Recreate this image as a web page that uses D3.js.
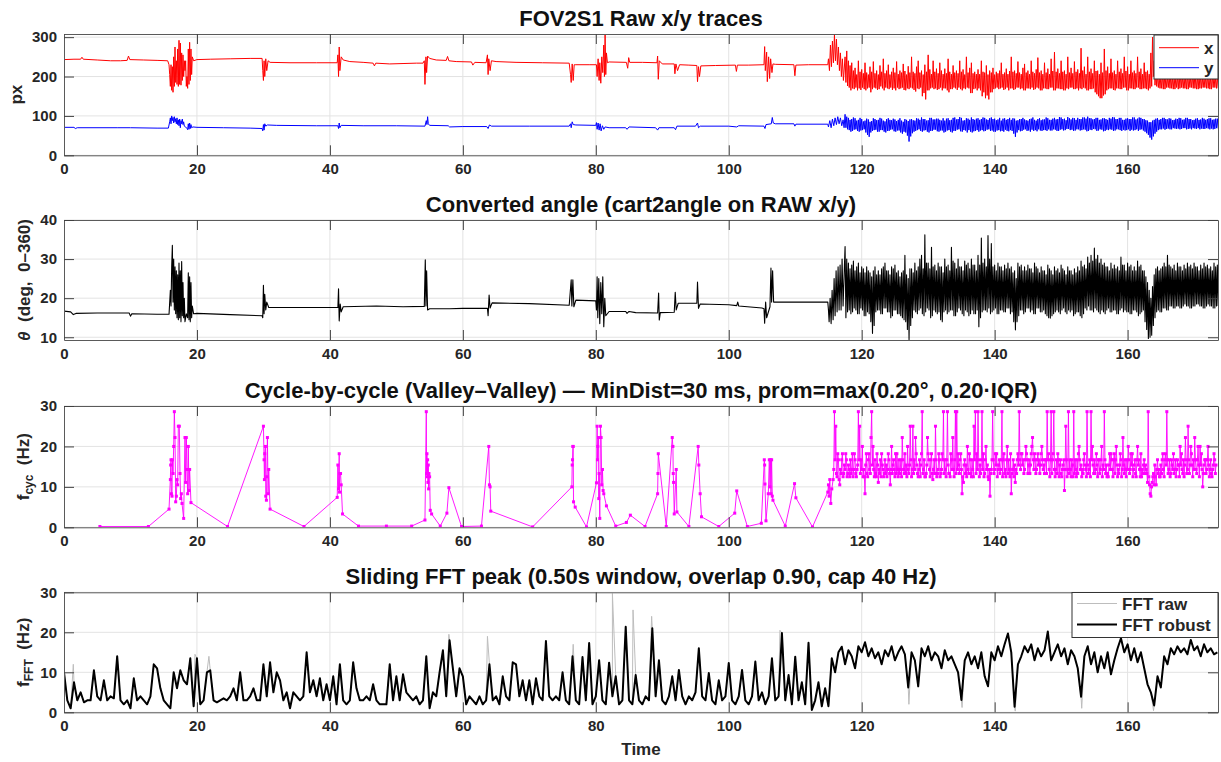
<!DOCTYPE html>
<html lang="en">
<head>
<meta charset="UTF-8">
<title>FOV2S1 traces</title>
<script src="https://d3js.org/d3.v7.min.js"></script>
<style>
    body { margin: 0; background: #fff; }
    svg { font-family: "Liberation Sans", Arial, sans-serif; }
    .tick text { font-size: 15px; font-weight: bold; fill: #262626; }
    .title { font-size: 22px; font-weight: bold; fill: #111; }
    .ylab, .xlab { font-size: 17px; font-weight: bold; fill: #262626; white-space: pre; }
    .leg { font-size: 17px; font-weight: bold; fill: #262626; }
</style>
</head>
<body>
<svg id="chart" width="1221" height="762"></svg>
<script>
// ---------------- data ----------------
var xTicks = [0, 20, 40, 60, 80, 100, 120, 140, 160];

// panel 1 – x trace, quiet part [time, px]
var xQuiet = [[0,243],[1.5,244],[2.5,244],[2.7,249],[2.9,244],[5,242],[7,240],[8.5,240],[9.5,241],[9.7,252],[9.9,243],[12,242],[14,241],[15.6,240],
  [15.8,230],[15.9,205],[16.0,175],[16.1,230],[16.2,165],[16.3,225],[16.4,160],[16.5,250],[16.6,175],[16.7,275],[16.8,185],[16.9,240],[17.0,180],[17.1,270],[17.2,175],[17.3,292],[17.4,180],[17.5,285],[17.6,178],[17.7,260],[17.8,190],[17.9,255],[18.0,200],[18.1,240],[18.2,215],[18.3,240],[18.4,175],[18.5,200],[18.6,170],[18.7,270],[18.8,180],[18.9,287],[19.0,190],[19.1,270],[19.2,205],[19.3,250],[19.5,240],
  [20,243],[22,244],[25,245],[28,246],[29.8,246],[29.9,215],[30.0,190],[30.1,240],[30.2,200],[30.35,245],[30.5,215],[30.7,240],[31,236],[34,235],[38,235],[41.1,235],[41.2,255],[41.3,200],[41.4,275],[41.5,215],[41.7,250],[42,242],[43,238],[45,236],[46.5,234],[46.7,227],[46.9,234],[49,232],[51,233],[53,234],[54,234],
  [54.2,240],[54.3,180],[54.45,250],[54.55,210],[54.7,252],[55,246],[56,242],[57.5,241],[57.7,251],[57.9,240],[59,238],[61.3,237],[61.5,229],[61.8,236],[63.5,235],[63.7,255],[63.8,205],[63.9,245],[64.1,215],[64.3,240],[65,238],[68,236],[72,235],[76,234],[76.2,205],[76.3,185],[76.45,232],[76.6,190],[76.75,230],[77,230],[79,230],
  [80.1,230],[80.2,200],[80.35,245],[80.5,190],[80.6,235],[80.75,183],[80.9,250],[81.05,210],[81.2,280],[81.3,200],[81.4,306],[81.5,205],[81.6,260],[81.75,235],[82,237],[84.6,236],[84.8,221],[84.95,248],[85.1,236],[87,236],[89.2,235],[89.3,252],[89.4,193],[89.55,240],[90,232],[91.8,232],[91.9,207],[92.05,232],[92.3,215],[92.6,230],[94,229],[95.2,228],[95.3,187],[95.45,225],[95.6,200],[95.8,227],[98,228],
  [101,229],[101.15,213],[101.3,229],[103,229],[105.3,230],[105.4,276],[105.5,215],[105.7,262],[105.8,187],[106.0,250],[106.15,195],[106.3,245],[106.5,210],[106.65,232],[107,231],[109.8,230],[109.95,202],[110.1,229],[112,230],[114.9,230],
  [115.0,245],[115.15,215],[115.3,280],[115.45,225],[115.6,290],[115.75,235],[115.9,306],[116.05,240],[116.2,295],[116.35,230],[116.5,275],[116.65,215],[116.8,260],[116.95,200],[117.1,245],[117.25,190]];

// dense part from 117.5 s: upper / lower envelope every 0.25 s
var bandT0 = 117.5, bandStep = 0.25;
var xHi = [250,265,240,228,235,215,222,205,240,212,218,208,235,210,205,225,212,238,208,215,
  205,228,212,245,208,215,230,205,212,222,210,238,206,215,210,232,214,205,226,210,
  250,212,208,225,240,210,215,205,230,212,255,218,206,240,212,220,208,235,215,206,
  220,208,245,212,206,228,210,215,208,240,212,218,205,250,210,222,235,208,212,206,
  218,206,240,212,210,228,205,215,210,222,205,212,208,215,235,206,210,220,206,214,
  250,212,215,208,238,210,206,222,232,210,215,206,240,212,208,218,248,210,215,206,
  235,210,220,206,245,214,262,212,220,208,240,212,215,206,250,210,222,208,238,212,
  218,208,272,215,225,206,250,212,220,208,240,214,215,206,235,210,270,215,225,208,
  245,210,215,206,240,212,220,208,250,214,225,206,240,210,215,208,250,212,220,206,
  235,212,215,206,260,300,240,215,205,198,200,205,210,198,198,202,205,196,200,198,
  200,204,210,198,198,202,205,197,200,203,212,198,200,204,205,196,198,202,206,199,
  200,203,204,198,200];
var xLo = [185,176,172,165,170,168,172,165,170,166,172,168,165,170,172,160,168,172,170,166,
  168,175,170,165,172,170,168,172,166,170,165,172,168,170,172,166,165,170,168,172,
  170,166,162,170,168,172,150,158,142,165,165,170,172,168,170,166,168,172,165,170,
  170,165,160,168,168,172,170,166,172,168,165,170,168,172,170,158,158,168,170,165,
  170,165,150,160,145,152,142,160,160,168,170,172,168,170,172,166,168,172,165,170,
  170,166,168,172,172,168,170,165,165,170,170,168,172,166,168,172,170,165,165,170,
  170,168,168,172,172,165,165,170,170,168,168,165,165,170,168,172,172,168,168,170,
  165,170,168,172,170,165,165,168,168,170,160,155,150,145,145,152,155,165,168,170,
  170,166,165,170,170,168,168,172,172,165,165,170,170,168,168,172,172,168,168,170,
  170,168,165,170,175,200,178,175,172,170,170,168,168,172,172,170,170,168,168,172,
  168,170,172,170,170,168,168,172,172,170,170,168,168,170,170,172,172,170,170,168,
  168,172,172,170,170];

// panel 1 – y trace
var yQuiet = [[0,71],[1.5,71],[1.7,68],[2,70],[8,70],[10,70],[14,69],[15.7,69],
  [15.9,85],[16.0,95],[16.1,80],[16.2,100],[16.3,88],[16.4,96],[16.5,82],[16.6,98],[16.7,85],[16.8,93],[16.9,80],[17.0,95],[17.1,78],[17.2,90],[17.3,75],[17.4,92],[17.5,70],[17.6,88],[17.7,80],[17.8,92],[17.9,78],[18.0,85],[18.1,74],[18.3,72],[18.5,68],[18.6,65],[18.7,80],[18.8,66],[18.9,82],[19.0,68],[19.1,78],[19.2,70],[19.4,72],
  [20,71],[24,70],[28,69],[29.8,68],[29.9,62],[30.0,78],[30.1,64],[30.2,80],[30.35,74],[30.6,77],[32,76],[38,75],[41.2,75],[41.3,68],[41.4,82],[41.5,70],[41.7,76],[45,75],[50,75],[54.3,74],[54.5,88],[54.6,78],[54.7,98],[54.8,80],[55,76],[57.8,75],[58,72],[60,73],[63.6,73],[63.8,68],[64,77],[64.3,74],[70,74],[76,74],[76.2,80],[76.3,70],[76.45,85],[76.6,78],[77,77],
  [80,76],[80.1,83],[80.2,66],[80.35,82],[80.5,64],[80.65,80],[80.8,62],[81,75],[81.2,66],[81.4,72],[82,70],[84.5,70],[84.7,66],[85,72],[89,70],[89.3,64],[89.5,70],[91.8,70],[92,65],[92.2,74],[95,74],[95.3,82],[95.45,70],[95.7,74],[100,74],[101.2,72],[101.5,75],[105.3,74],[105.45,68],[105.6,78],[106.4,80],[106.55,96],[106.7,82],[107,80],[109.8,80],[109.95,74],[110.1,79],[114.9,79],
  [115.0,72],[115.2,88],[115.4,70],[115.6,92],[115.8,75],[116.0,95],[116.2,78],[116.4,98],[116.6,80],[116.8,95],[117.0,75],[117.2,90],[117.35,70]];
var yHi = [104,98,95,90,92,96,94,88,90,95,92,86,88,93,91,85,87,94,92,89,
  90,95,93,88,86,92,94,90,89,93,91,87,90,94,88,85,92,90,87,91,
  92,89,88,94,93,90,96,92,92,88,89,95,95,91,91,93,93,90,88,94,
  88,93,94,89,90,95,96,91,92,97,95,88,89,94,93,90,96,92,90,93,
  94,90,92,96,95,91,90,94,96,92,93,89,91,95,88,93,94,90,92,95,
  90,94,93,88,89,92,92,95,91,89,88,92,93,96,90,88,92,94,89,91,
  91,96,94,90,90,93,95,91,92,97,96,92,93,89,97,94,91,95,94,90,
  95,92,92,96,96,93,98,94,94,91,92,95,95,90,91,94,94,92,90,95,
  93,97,96,92,92,95,95,90,90,93,94,92,92,96,96,91,93,96,95,92,
  92,89,88,84,84,88,90,93,94,90,92,95,95,92,91,94,93,89,90,93,
  92,95,94,90,91,95,95,92,92,89,90,93,94,90,91,95,93,90,92,94,
  94,90,91,93,93];
var yLo = [70,66,64,60,62,65,66,62,60,63,64,66,58,52,47,58,62,64,65,60,
  60,64,64,60,58,62,62,65,66,61,60,63,63,58,55,60,58,50,35,48,
  56,60,62,64,66,62,60,63,64,60,58,62,62,65,65,61,60,63,63,58,
  60,63,64,60,58,62,62,65,66,61,60,64,63,58,64,60,58,61,62,64,
  60,63,64,61,62,65,66,62,63,60,60,63,64,61,62,60,65,62,61,64,
  62,55,47,58,64,61,62,65,66,62,63,60,65,62,64,61,66,63,62,64,
  64,62,66,63,63,66,65,62,62,65,66,63,64,67,67,64,65,62,63,66,
  66,63,64,66,65,61,62,65,64,67,66,62,63,66,65,61,62,65,64,66,
  65,62,63,66,66,64,62,65,63,64,66,62,65,63,64,66,62,65,66,63,
  60,56,52,45,40,48,55,60,64,66,66,68,65,67,68,66,66,69,68,67,
  68,66,67,69,69,66,67,68,66,69,68,67,69,66,68,67,67,69,68,66,
  68,66,67,69,68];

// panel 2 – converted angle (deg)
var thQuiet = [[0,16.7],[1,16.5],[1.4,15.8],[1.8,16.1],[5,16.2],[9.8,16.2],[10,15.4],[10.2,16],[14,15.9],[15.8,15.9],
  [16.0,22],[16.1,18],[16.2,28],[16.3,33.5],[16.4,19],[16.5,30],[16.6,17],[16.7,28],[16.8,16],[16.9,27],[17.0,15],[17.1,26],[17.2,14.5],[17.3,29],[17.4,15],[17.5,27],[17.6,14],[17.7,29.4],[17.8,15.5],[17.9,24],[18.0,15],[18.1,20],[18.2,14],[18.4,16],[18.6,15],[18.7,26.5],[18.8,14.5],[18.9,25.5],[19.0,14],[19.1,24],[19.2,15],[19.3,18],[19.5,16],
  [20,16.1],[25,15.8],[29.8,15.5],[29.9,15],[30.0,23.3],[30.1,16],[30.2,21],[30.35,17],[30.5,19],[30.8,17.6],[35,17.6],[41.2,17.6],[41.3,22.4],[41.4,14.2],[41.55,18.5],[41.7,16.5],[42,17.8],[47,18],[51,17.8],[54.2,17.9],[54.35,29.8],[54.45,18],[54.55,27],[54.7,17],[55,17.3],[58,17.3],[60,17.4],[63.7,17.4],[63.8,15.5],[63.95,20.8],[64.1,17.5],[64.4,18.8],[70,18.6],[76,18.2],[76.3,24.7],[76.4,18],[76.55,24.7],[76.7,17.8],[77,19.5],
  [80,19.3],[80.1,17],[80.2,25.5],[80.3,15],[80.45,25],[80.6,13.5],[80.75,24],[80.9,16],[81.05,25.5],[81.2,12.7],[81.35,20],[81.5,15.5],[82,16.6],[84.5,16.6],[84.7,16.1],[85,16.6],[86,16.3],[89.3,16.2],[89.45,21.3],[89.55,14.4],[89.7,16.3],[91.8,16.4],[91.95,21.5],[92.1,17],[92.4,18.7],[95.2,18.7],[95.3,24.1],[95.45,17.4],[95.7,18.5],[100,18.3],[101.2,18.1],[101.35,19],[101.5,18],[105,17.5],[105.3,17.3],[105.4,13.6],[105.55,19],[105.7,15],[106.2,17.8],[106.35,27.7],[106.45,19],[106.6,27],[106.75,19],[107,19],[110,19],[114.9,19],
  [115.0,17],[115.1,14],[115.25,20],[115.4,13.5],[115.55,22],[115.7,14.5],[115.85,25],[116.0,15.5],[116.15,27],[116.3,16.5],[116.45,28],[116.6,17],[116.75,28.5],[116.9,17],[117.05,30],[117.2,18]];
var thHi = [33.2,30,29,27.5,28.5,29.5,27,28,29,26.5,28,27.5,26.5,28,27,26.5,25.5,27,28,26,
  27,26,27.5,28,29,27,27,26,28,27.5,28.5,26.5,27,25.5,26.5,27,31,26,25,27.5,
  27.5,26.5,29,27,28,30,31,27.5,36.2,29,29,27.5,33,28,28.5,27,29,28,28,26.5,
  30,28,28.5,27,33,29.5,29,27.5,30,28,28,27,29.5,28.5,29,27.5,30,28.5,28.5,27,
  31,28.5,35.4,29,30,28,36,30,34,28,28.5,27,29,28,28,27,28.5,27.5,29,27.5,
  28,26.5,27,25,29,28,28.5,27,28,27,28.5,27.5,27.5,26.5,29,28,27.5,26.5,28,27,
  27,26,28.5,27.5,27,26,28,27,27.5,26.5,28.5,27.5,27,26,28,27,27,26,27.5,26.5,
  28,27,29.5,28,28.5,27.5,30.5,29,31,29.5,32.8,30,31,29,30,28.5,29,28,28,27,
  29,27.5,28.5,27.5,28,27,30.5,28.5,28.5,27,29,28,28.5,27,28,27,29.5,28,28.5,27,
  27,25.5,24,22,20,23,26,27.5,28,27,27.5,28,29,28,31,28.5,28,27.5,28.5,27,
  29,28,28,27,28.5,27.5,29,28,28.5,27.5,29,28,28,27,28.5,27.5,29,28,28.5,27.5,
  28,27,29,28,28.5];
var thLo = [15,16.5,17,16,16.5,17.5,17,16,16,17.5,17,15.5,15.5,16.5,16,14,11,13,16.5,17,
  17,16,16,17.5,17.5,16.5,16.5,15,15.5,17,17,16,16,15.5,15,14.5,14,12,9.4,13,
  15,17,16.5,16,17,17.5,16,15.5,16.5,17.5,17,15,15.5,17,16.5,16,16.5,14.5,14,16.5,
  17,16,16.5,17,17,15.5,15.5,16.5,17.5,17,16,15.5,17,16.5,15.5,16,17,16,16,17,
  12.7,15,16.5,17,17,16.5,17.5,16,16.5,17,17.5,16,16,17,17,16.5,16.5,17.5,17.5,16,
  16.5,14,11.9,14,15.5,17,17,16,16.5,17.5,17.5,16.5,17,16,16,17.5,17.5,16.5,16.5,17,
  16,15.5,15,14.9,15.5,16,16.5,17,16.5,16,17,17.5,16.5,16,17,16.5,17,15.5,16,16.5,
  16.5,15.5,15,16,17.5,17,18,17,17,16.5,17.5,17,16.5,16,17,16.5,16,17,17.5,16.5,
  16.5,17,17,16,16,17,17.5,16.5,17,16.5,16.5,16,16,17,17,16.5,15.5,16,16.5,17,
  14,12,9.7,10,10.5,13,15,16.5,17,16.5,16.5,17.5,17.5,17,17,18,18,17.5,17.5,18,
  18,17.5,17.5,18,18.5,18,18,17.5,17.5,18,18,18.5,18.5,18,18,17.5,17.5,18,18.5,18,
  18,17.5,17.5,18,18];

// panel 3 – cycle-by-cycle frequency (Hz)
var cycQuiet = [[5.4,0.2],[12.7,0.2],[15.8,4.5],[16.0,11.8],[16.05,15.4],[16.1,16.7],[16.15,8.3],[16.25,7.7],[16.3,16.7],[16.4,13.3],[16.5,20],[16.6,28.6],[16.7,22.2],[16.8,6.3],[16.9,7.7],[17.0,11.8],[17.1,10.5],[17.2,25],[17.35,25],[17.45,13.3],[17.55,7.1],[17.65,8.3],[17.75,5.9],[18.0,2.2],[18.2,22.2],[18.3,11.1],[18.4,22.2],[18.5,14.3],[18.6,8.3],[18.7,20],[18.8,9.1],[18.9,14.3],[19.1,6.1],
  [24.6,0.2],[30.0,25],[30.1,16.7],[30.15,11.8],[30.2,18.2],[30.3,20],[30.35,7.7],[30.45,6.7],[30.5,12.5],[30.6,22.2],[30.7,8.3],[30.8,14.3],[31.0,4.5],
  [36.1,0.2],[41.1,7.4],[41.2,15.4],[41.3,9.5],[41.4,18.2],[41.45,8.7],[41.5,13.3],[41.6,13.3],[41.7,10.5],[41.9,3.3],
  [44.3,0.3],[48.5,0.3],[52.3,0.3],[54.3,1.8],[54.5,28.6],[54.55,13.3],[54.6,18.2],[54.65,12.5],[54.7,16.7],[54.75,11.1],[54.8,15.4],[54.85,9.5],[54.9,13.3],[55.0,12.5],[55.1,4.2],[55.3,3.3],[56.6,0.3],[57.6,3.5],[57.9,9.8],[59.8,0.2],[62.8,0.3],[63.9,20],[64.0,10.5],[64.1,10],[64.2,4],[70.5,0.1],
  [76.4,10],[76.45,15.4],[76.5,16.7],[76.55,20],[76.6,20],[76.65,6.3],[76.9,5],[78.6,0.1],[80.1,11],[80.2,25],[80.25,16.7],[80.3,20],[80.4,22.2],[80.45,7.1],[80.5,13.3],[80.6,2.2],[80.7,25],[80.8,22.2],[80.9,10.5],[81.0,14.3],[81.1,9.1],[81.2,8.3],[81.6,5.3],[83.0,0.3],[84.6,1.2],[85.2,3],[87.4,0.2],
  [89.3,8.3],[89.35,13.3],[89.4,18.2],[90.6,0.2],[91.5,22.2],[91.6,20],[91.65,13.3],[91.7,11.1],[91.8,3.3],[92.1,14.3],[92.2,3.8],[94.0,0.2],[95.4,20],[95.5,15.4],[95.7,8.3],[95.9,2.6],[98.5,0.2],[100.9,3.5],[101.2,9],[102.8,0.2],[104.9,1],
  [105.35,16.7],[105.4,15.4],[105.45,10.7],[105.6,1.6],[105.95,8.3],[106.1,16.7],[106.2,10],[106.3,16.7],[106.35,8.3],[106.45,16.7],[106.55,7.7],[106.65,6.7],[108.5,0.3],[109.9,10.8],[110.1,7.3],[112.6,0.1],[114.9,8.7],[115.0,10.5],[115.1,7.7],[115.2,11.8],[115.35,5.9],[115.5,9.5]];
// dense part: one value per 0.1 s from 115.7 s
var cycT0 = 115.7, cycStep = 0.1;
var cycDense = [
  11.8,14.3,28.6,16.7,25,13.3,12.5,18.2,16.7,11.8,10.5,14.3,13.3,16.7,18.2,12.5,13.3,15.4,14.3,18.2,16.7,12.5,13.3,15.4,14.3,12.5,16.7,13.3,14.3,18.2,12.5,14.3,18.2,16.7,13.3,12.5,14.3,15.4,28.6,16.7,
  25,13.3,16.7,14.3,20,12.5,14.3,12.5,8.3,15.4,18.2,13.3,12.5,16.7,18.2,14.3,13.3,22.2,28.6,15.4,20,14.3,12.5,16.7,13.3,12.5,18.2,15.4,11.1,14.3,13.3,16.7,12.5,18.2,15.4,14.3,12.5,13.3,16.7,13.3,
  15.4,12.5,14.3,18.2,16.7,13.3,10.5,14.3,20,13.3,15.4,16.7,14.3,12.5,18.2,13.3,18.2,14.3,12.5,16.7,13.3,14.3,16.7,12.5,22.2,16.7,14.3,13.3,18.2,13.3,15.4,12.5,20,14.3,13.3,15.4,25,16.7,12.5,14.3,
  25,13.3,16.7,14.3,22.2,18.2,15.4,13.3,12.5,14.3,16.7,12.5,15.4,18.2,28.6,13.3,14.3,16.7,12.5,12.5,13.3,15.4,22.2,18.2,16.7,14.3,12.5,16.7,18.2,13.3,11.8,14.3,16.7,13.3,25,16.7,12.5,13.3,14.3,18.2,
  16.7,12.5,13.3,14.3,18.2,16.7,28.6,13.3,16.7,14.3,12.5,16.7,28.6,15.4,13.3,13.3,12.5,18.2,16.7,14.3,22.2,14.3,12.5,16.7,28.6,13.3,28.6,14.3,18.2,15.4,13.3,16.7,18.2,14.3,8.3,12.5,11.1,15.4,16.7,13.3,
  15.4,12.5,20,14.3,13.3,18.2,16.7,13.3,12.5,16.7,14.3,12.5,25,16.7,28.6,13.3,18.2,14.3,28.6,16.7,12.5,15.4,13.3,16.7,28.6,14.3,18.2,12.5,13.3,16.7,20,14.3,15.4,12.5,11.8,14.3,7.7,13.3,14.3,16.7,
  28.6,16.7,13.3,14.3,18.2,15.4,18.2,12.5,14.3,15.4,16.7,13.3,14.3,16.7,28.6,12.5,16.7,18.2,13.3,14.3,12.5,16.7,20,13.3,16.7,14.3,12.5,18.2,8.3,13.3,14.3,16.7,12.5,15.4,11.1,14.3,13.3,16.7,18.2,15.4,
  28.6,16.7,14.3,18.2,18.2,15.4,16.7,13.3,14.3,16.7,20,18.2,16.7,13.3,15.4,16.7,13.3,15.4,18.2,20,22.2,16.7,14.3,18.2,16.7,13.3,14.3,16.7,18.2,15.4,16.7,13.3,15.4,18.2,20,16.7,14.3,15.4,13.3,16.7,
  16.7,13.3,28.6,16.7,18.2,14.3,12.5,16.7,28.6,13.3,16.7,18.2,28.6,14.3,12.5,14.3,16.7,13.3,18.2,16.7,12.5,15.4,16.7,13.3,12.5,14.3,15.4,16.7,9.1,14.3,25,16.7,12.5,14.3,28.6,13.3,16.7,14.3,12.5,16.7,
  15.4,12.5,28.6,13.3,16.7,14.3,12.5,16.7,13.3,18.2,20,16.7,14.3,15.4,12.5,14.3,13.3,16.7,18.2,15.4,14.3,12.5,28.6,15.4,13.3,14.3,16.7,12.5,28.6,16.7,20,15.4,13.3,16.7,13.3,14.3,18.2,15.4,12.5,16.7,
  16.7,13.3,14.3,16.7,20,12.5,15.4,14.3,28.6,16.7,13.3,15.4,12.5,13.3,12.5,15.4,18.2,14.3,18.2,16.7,14.3,12.5,16.7,18.2,13.3,16.7,20,15.4,12.5,14.3,13.3,15.4,18.2,16.7,12.5,14.3,22.2,15.4,13.3,16.7,
  14.3,12.5,16.7,14.3,20,16.7,13.3,14.3,18.2,15.4,18.2,12.5,14.3,15.4,16.7,13.3,12.5,16.7,20,15.4,16.7,14.3,12.5,18.2,12.5,14.3,13.3,15.4,16.7,13.3,15.4,14.3,13.3,11.1,28.6,12.5,10.5,8.3,7.7,10,
  11.1,12.5,13.3,10.5,15.4,12.5,10.5,14.3,16.7,13.3,14.3,12.5,12.5,15.4,13.3,16.7,18.2,14.3,12.5,16.7,18.2,15.4,28.6,16.7,13.3,14.3,16.7,12.5,13.3,16.7,15.4,14.3,18.2,13.3,14.3,16.7,12.5,14.3,16.7,15.4,
  15.4,12.5,20,15.4,18.2,14.3,13.3,16.7,12.5,15.4,22.2,16.7,13.3,14.3,25,16.7,13.3,15.4,20,18.2,15.4,12.5,16.7,14.3,22.2,16.7,14.3,13.3,16.7,20,15.4,12.5,20,15.4,18.2,14.3,10,13.3,15.4,16.7,
  16.7,13.3,14.3,16.7,20,15.4,12.5,14.3,16.7,13.3,12.5,14.3,15.4,18.2,16.7,13.3,15.4];

// panel 4 – sliding FFT peak (Hz), robust value every 0.5 s from t = 0
var fftStep = 0.5;
var fftRobust = [10,3,1,7.5,3,5,2.5,3,3,10.5,4,3,8,3,4,3.5,14,3,2,3,
  1,8.5,3,4,3,2,4,12,11,6,3,2,1,10,6,10.5,8,7,13.5,1.5,
  13.5,2,3,10,10.5,3,2.5,3,3.5,3,4,6,3,10,3,3,4,6,3,3,
  12,4,12.5,5,10,8,3,5,1,5,4,3,4,15,5,8,4,8.5,3,7,
  3,9,2,12,3,2,3,12.5,6,3,3,4,3,7,3,2,2,2,12,3,
  9,3,9.5,5,4,3,4,2,3,14,1,5,4,10,15.5,4,18,11,4,11,
  9,2,4,3,2,4,2,3,12,3,4,2,9,4,3,12.5,12,4,8,3,
  8,2,8.5,4,3,17.8,4,3,4,3,10,3,2,14,3,2,13.8,3,17.3,2,
  4,13,3,2,12.4,4,9,2,3,21.4,3,2,9.3,3,2,4,3,21,4,13,
  3,2,4,9,3,10.6,4,2,4,3,5,16,4,3,9.8,3,2,8,3,4,
  12.3,3,2,4,10.6,3,2,4,12.7,3,5,2,4,13.5,3,4,19.8,3,9.3,2,
  13.9,3,7.5,2,17.4,0.6,3,7.5,1.5,6,1.5,13.5,10,15,16.4,12,15.5,14,11,16.5,
  15,17.5,14,16,13.5,15,12,15.5,14,16.5,13,15,16.5,14.5,6.2,15,13,6.5,16,14,
  16.5,13,15,14,11,15.5,13,14,12,10,3.1,13,15,12,14,11,15,9,6.5,15,
  13,16.5,14,17,19.7,15,1.4,12,14,16.5,15,17,13,16,14,15.5,20.2,13,15,17,
  14,16,12,15.5,14,11,3.9,14,16.5,12,15,10,14,11,15,9.5,13,16,18.5,15,
  17,13,16,12.5,15,11,7,5,1.7,9,6.2,14,12,16,14.5,16.5,15,16,14.5,18.1,
  15.5,16.5,14,17,15,16,14.5,15];
// raw FFT peaks that stick out of the robust curve [time, Hz]
var fftRawSpikes = [[1.4,12],[19.7,14.5],[21.8,14],[57.9,19.5],[63.7,19],[76.6,17],[82.5,29.7],[85.6,25.6],[88.4,24],[107.7,20.5],[127.1,2],[135.1,1.2],[143.1,0.3],[153.1,1],[163.9,0.4]];

// ---------------- layout ----------------
var svg = d3.select('#chart');
var left = 64, right = 1218;
var x = d3.scaleLinear().domain([0, 173.6]).range([left, right]);

var panels = [
    { top: 34, bottom: 155.3, domain: [0, 308], ticks: [0, 100, 200, 300],
      title: 'FOV2S1 Raw x/y traces', labX: 21.5 },
    { top: 220, bottom: 340, domain: [9.3, 40], ticks: [10, 20, 30, 40],
      title: 'Converted angle (cart2angle on RAW x/y)', labX: 29.5 },
    { top: 406, bottom: 527.3, domain: [0, 30], ticks: [0, 10, 20, 30],
      title: 'Cycle-by-cycle (Valley\u2013Valley) \u2014 MinDist=30 ms, prom=max(0.20\u00b0, 0.20\u00b7IQR)', labX: 28.5 },
    { top: 592.3, bottom: 712.3, domain: [0, 30], ticks: [0, 10, 20, 30],
      title: 'Sliding FFT peak (0.50s window, overlap 0.90, cap 40 Hz)', labX: 28.5 }
];

function band(t0, step, hi, lo) {
    var pts = [];
    hi.forEach(function (h, i) {
        var t = t0 + i * step;
        pts.push([t, h]);
        pts.push([t + step / 2, lo[i]]);
    });
    return pts;
}

panels.forEach(function (p, k) {
    p.y = d3.scaleLinear().domain(p.domain).range([p.bottom, p.top]);
    var g = svg.append('g');
    p.g = g;

    g.append('clipPath').attr('id', 'clip' + k)
        .append('rect').attr('x', left).attr('y', p.top)
        .attr('width', right - left).attr('height', p.bottom - p.top);

    // grid
    g.selectAll('.gx').data(xTicks.slice(1)).enter().append('line')
        .attr('x1', d => x(d)).attr('x2', d => x(d))
        .attr('y1', p.top).attr('y2', p.bottom)
        .attr('stroke', '#e3e3e3').attr('stroke-width', 1);
    g.selectAll('.gy').data(p.ticks).enter().append('line')
        .attr('x1', left).attr('x2', right)
        .attr('y1', d => p.y(d)).attr('y2', d => p.y(d))
        .attr('stroke', '#e3e3e3').attr('stroke-width', 1);

    p.plot = g.append('g').attr('clip-path', 'url(#clip' + k + ')');

    g.append('text').attr('class', 'title')
        .attr('x', (left + right) / 2).attr('y', p.top - 8.5)
        .attr('text-anchor', 'middle').text(p.title);
});

function drawLine(p, pts, color, width) {
    p.plot.append('path').datum(pts)
        .attr('fill', 'none').attr('stroke', color).attr('stroke-width', width)
        .attr('stroke-linejoin', 'round')
        .attr('d', d3.line().x(d => x(d[0])).y(d => p.y(d[1])));
}

// panel 1
drawLine(panels[0], xQuiet.concat(band(bandT0, bandStep, xHi, xLo)), '#ff0000', 1);
drawLine(panels[0], yQuiet.concat(band(bandT0, bandStep, yHi, yLo)), '#0000ff', 1);
// panel 2
drawLine(panels[1], thQuiet.concat(band(bandT0, bandStep, thHi, thLo)), '#000000', 1.1);
// panel 3
var cycPts = cycQuiet.concat(cycDense.map((v, i) => [cycT0 + i * cycStep, v]));
drawLine(panels[2], cycPts, '#ff00ff', 0.9);
panels[2].plot.selectAll('rect.m').data(cycPts).enter().append('rect')
    .attr('x', d => x(d[0]) - 1.5).attr('y', d => panels[2].y(d[1]) - 1.5)
    .attr('width', 3).attr('height', 3).attr('fill', '#ff00ff');
// panel 4
var robustPts = fftRobust.map((v, i) => [i * fftStep, v]);
var rawPts = robustPts.concat(fftRawSpikes).sort((a, b) => a[0] - b[0]);
drawLine(panels[3], rawPts, '#bdbdbd', 1);
drawLine(panels[3], robustPts, '#000000', 2);

// axes & box
panels.forEach(function (p, k) {
    var g = p.g;
    var bottomAx = g.append('g').attr('transform', 'translate(0,' + p.bottom + ')')
        .call(d3.axisBottom(x).tickValues(xTicks).tickSize(-10).tickSizeOuter(0).tickPadding(8));
    var topAx = g.append('g').attr('transform', 'translate(0,' + p.top + ')')
        .call(d3.axisTop(x).tickValues(xTicks).tickSize(-10).tickSizeOuter(0).tickFormat(''));
    var leftAx = g.append('g').attr('transform', 'translate(' + left + ',0)')
        .call(d3.axisLeft(p.y).tickValues(p.ticks).tickSize(-10).tickSizeOuter(0).tickPadding(7));
    var rightAx = g.append('g').attr('transform', 'translate(' + right + ',0)')
        .call(d3.axisRight(p.y).tickValues(p.ticks).tickSize(-10).tickSizeOuter(0).tickFormat(''));
    [bottomAx, topAx, leftAx, rightAx].forEach(function (a) {
        a.select('.domain').attr('stroke', '#5a5a5a').attr('stroke-width', 1);
        a.selectAll('.tick line').attr('stroke', '#404040').attr('stroke-width', 1);
        a.attr('font-family', null).attr('font-size', null);
    });
    bottomAx.selectAll('.tick text').attr('dy', '0.72em');
});

// y labels
function yLabel(p, build) {
    var t = p.g.append('text').attr('class', 'ylab')
        .attr('xml:space', 'preserve')
        .attr('transform', 'translate(' + p.labX + ',' + ((p.top + p.bottom) / 2) + ') rotate(-90)')
        .attr('text-anchor', 'middle');
    build(t);
}
yLabel(panels[0], t => t.text('px'));
yLabel(panels[1], t => {
    t.attr('font-size', '18px');
    t.append('tspan').attr('font-style', 'italic').text('\u03b8');
    t.append('tspan').text('  (deg,  0\u2013360)');
});
yLabel(panels[2], t => {
    t.append('tspan').text('f');
    t.append('tspan').attr('font-size', '12px').attr('dy', 4).text('cyc');
    t.append('tspan').attr('dy', -4).text('  (Hz)');
});
yLabel(panels[3], t => {
    t.append('tspan').text('f');
    t.append('tspan').attr('font-size', '12px').attr('dy', 4).text('FFT');
    t.append('tspan').attr('dy', -4).text('  (Hz)');
});

svg.append('text').attr('class', 'xlab').attr('x', (left + right) / 2).attr('y', 755)
    .attr('text-anchor', 'middle').text('Time');

// legends
function legend(p, x0, y0, w, h, items) {
    var g = p.g.append('g');
    g.append('rect').attr('x', x0).attr('y', y0).attr('width', w).attr('height', h)
        .attr('fill', '#fff').attr('stroke', '#333').attr('stroke-width', 1);
    items.forEach(function (it) {
        g.append('line').attr('x1', x0 + 5).attr('x2', x0 + 45)
            .attr('y1', it.y).attr('y2', it.y)
            .attr('stroke', it.color).attr('stroke-width', it.width);
        g.append('text').attr('class', 'leg').attr('x', x0 + 50).attr('y', it.y + 6).text(it.label);
    });
}
legend(panels[0], 1154, 35, 64, 44, [
    { label: 'x', color: '#ff0000', width: 1, y: 47.7 },
    { label: 'y', color: '#0000ff', width: 1, y: 67.7 }
]);
legend(panels[3], 1072, 592.5, 146, 45, [
    { label: 'FFT raw', color: '#bdbdbd', width: 1, y: 603.5 },
    { label: 'FFT robust', color: '#000000', width: 2, y: 624.5 }
]);
</script>
</body>
</html>
